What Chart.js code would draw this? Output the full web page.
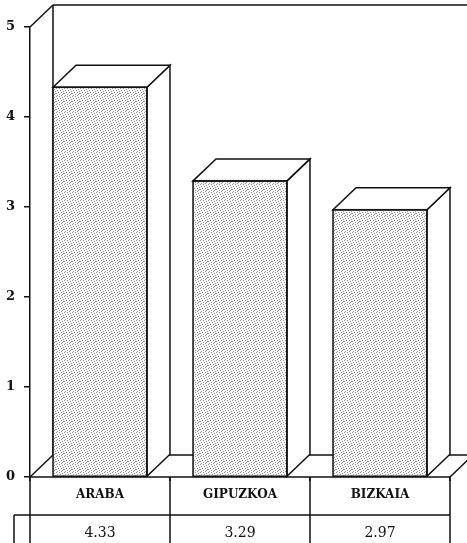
<!DOCTYPE html>
<html>
<head>
<meta charset="utf-8">
<script src="https://cdn.jsdelivr.net/npm/chart.js@4.4.1/dist/chart.umd.min.js"></script>
<style>
  html, body { margin: 0; padding: 0; background: #fff; }
  canvas { display: block; }
</style>
</head>
<body>
<canvas id="chart" width="467" height="543"></canvas>
<script>
const categories = ['ARABA', 'GIPUZKOA', 'BIZKAIA'];
const values = [4.33, 3.29, 2.97];
const yTicks = [0, 1, 2, 3, 4, 5];

const depthX = 23;
const depthY = 22;
const ink = '#111';

// fine grey stipple for the front faces
function makeStipple() {
    const c = document.createElement('canvas');
    c.width = 8;
    c.height = 8;
    const g = c.getContext('2d');
    g.fillStyle = '#f6f6f6';
    g.fillRect(0, 0, 8, 8);
    g.fillStyle = '#949494';
    const dots = [[0, 0], [3, 0], [6, 1], [1, 2], [4, 2], [7, 3], [2, 4], [5, 4],
                  [0, 5], [3, 6], [6, 6], [1, 7], [5, 7], [7, 5]];
    dots.forEach(([px, py]) => g.fillRect(px, py, 1, 1));
    return g.createPattern(c, 'repeat');
}

function seg(ctx, x1, y1, x2, y2) {
    ctx.beginPath();
    ctx.moveTo(x1, y1);
    ctx.lineTo(x2, y2);
    ctx.stroke();
}

// back wall, floor, then the top/side faces of each bar, then the data table
const box3d = {
    id: 'box3d',
    beforeDatasetsDraw(chart) {
        const {ctx, chartArea: a} = chart;
        ctx.save();
        ctx.strokeStyle = ink;
        ctx.lineWidth = 1.5;
        seg(ctx, a.left, a.top, a.left + depthX, a.top - depthY);
        seg(ctx, a.left + depthX, a.top - depthY, chart.width, a.top - depthY);
        seg(ctx, a.left + depthX, a.top - depthY, a.left + depthX, a.bottom - depthY);
        seg(ctx, a.left, a.bottom, a.left + depthX, a.bottom - depthY);
        seg(ctx, a.left + depthX, a.bottom - depthY, chart.width, a.bottom - depthY);
        seg(ctx, a.right, a.bottom, a.right + depthX, a.bottom - depthY);
        ctx.restore();
    },
    afterDatasetsDraw(chart) {
        const {ctx} = chart;
        const meta = chart.getDatasetMeta(0);
        ctx.save();
        ctx.strokeStyle = ink;
        ctx.lineWidth = 1.5;
        ctx.fillStyle = '#fff';
        meta.data.forEach(bar => {
            const {x, y, base, width} = bar.getProps(['x', 'y', 'base', 'width'], true);
            const l = x - width / 2;
            const r = x + width / 2;
            ctx.beginPath();
            ctx.moveTo(r, y);
            ctx.lineTo(r + depthX, y - depthY);
            ctx.lineTo(r + depthX, base - depthY);
            ctx.lineTo(r, base);
            ctx.closePath();
            ctx.fill();
            ctx.stroke();
            ctx.beginPath();
            ctx.moveTo(l, y);
            ctx.lineTo(l + depthX, y - depthY);
            ctx.lineTo(r + depthX, y - depthY);
            ctx.lineTo(r, y);
            ctx.closePath();
            ctx.fill();
            ctx.stroke();
            ctx.strokeRect(l, y, width, base - y);
        });
        ctx.restore();
    },
    afterDraw(chart) {
        const {ctx, chartArea: a, scales: {x}} = chart;
        const rowY = a.bottom + 38;
        const h = chart.height;
        ctx.save();
        ctx.strokeStyle = ink;
        ctx.lineWidth = 1.5;
        seg(ctx, a.left, a.bottom, a.right, a.bottom);
        const edges = [a.left];
        for (let i = 0; i < categories.length - 1; i++) {
            edges.push((x.getPixelForValue(i) + x.getPixelForValue(i + 1)) / 2);
        }
        edges.push(a.right);
        edges.forEach(ex => seg(ctx, ex, a.bottom, ex, h));
        seg(ctx, a.left - 16, rowY, a.right, rowY);
        seg(ctx, a.left - 16, rowY, a.left - 16, h);
        ctx.fillStyle = ink;
        ctx.font = '14px "DejaVu Serif"';
        ctx.textAlign = 'center';
        ctx.textBaseline = 'middle';
        values.forEach((v, i) => {
            ctx.fillText(v.toFixed(2), x.getPixelForValue(i), rowY + 18);
        });
        ctx.restore();
    }
};

new Chart(document.getElementById('chart'), {
    type: 'bar',
    data: {
        labels: categories,
        datasets: [{
            data: values,
            backgroundColor: makeStipple(),
            borderColor: ink,
            borderWidth: 0,
            categoryPercentage: 1,
            barPercentage: 0.671
        }]
    },
    options: {
        responsive: false,
        animation: false,
        devicePixelRatio: 1,
        layout: { padding: { top: 27, right: 17, left: 0, bottom: 0 } },
        plugins: {
            legend: { display: false },
            title: { display: false },
            tooltip: { enabled: false }
        },
        scales: {
            x: {
                afterFit(scale) { scale.height = 66; },
                grid: { drawOnChartArea: false, drawTicks: true, tickLength: 4, color: ink, lineWidth: 1.5 },
                border: { display: false },
                ticks: {
                    color: ink,
                    padding: 7,
                    font: { family: '"DejaVu Serif"', size: 12, weight: 'bold' }
                }
            },
            y: {
                min: 0,
                max: 5,
                afterFit(scale) { scale.width = 30; },
                afterBuildTicks(scale) { scale.ticks = yTicks.map(v => ({ value: v })); },
                grid: { drawOnChartArea: false, drawTicks: true, tickLength: 6, color: ink, lineWidth: 1.5 },
                border: { display: true, color: ink, width: 1.5 },
                ticks: {
                    color: ink,
                    padding: 9,
                    font: { family: '"DejaVu Serif"', size: 13, weight: 'bold' }
                }
            }
        }
    },
    plugins: [box3d]
});
</script>
</body>
</html>
